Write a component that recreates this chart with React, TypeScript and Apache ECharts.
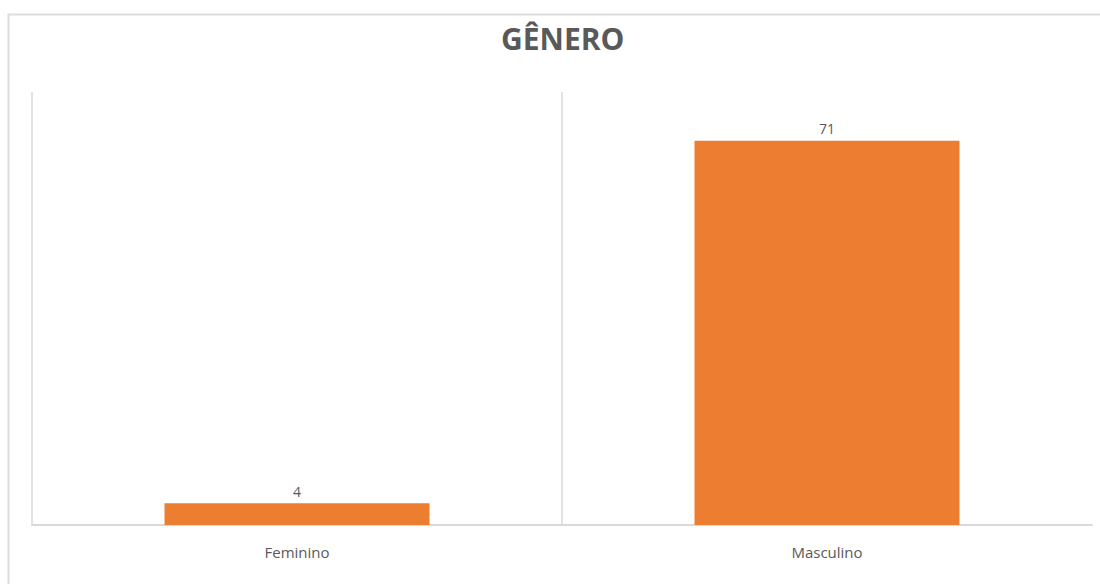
import React, { useEffect, useRef } from "react";
import * as echarts from "echarts";

const categories = ["Feminino", "Masculino"];
const values = [4, 71];
const titleText = "GÊNERO";

export default function App() {
  const ref = useRef<HTMLDivElement>(null);
  useEffect(() => {
    const chart = echarts.init(ref.current!, null, { renderer: "svg" });
    chart.setOption({
      animation: false,
      backgroundColor: "#ffffff",
      title: {
        text: titleText,
        left: 496,
        top: 18,
        textStyle: { fontFamily: "Open Sans", fontSize: 30, fontWeight: "bold", color: "#595959" },
      },
      graphic: [
        {
          type: "polyline",
          shape: { points: [[8.5, 700], [8.5, 14.5], [1100, 14.5]] },
          style: { fill: "none", stroke: "#dcdcdc", lineWidth: 2 },
          silent: true,
        },
      ],
      grid: { left: 32, right: 8, top: 92, bottom: 59 },
      xAxis: {
        type: "category",
        data: categories,
        boundaryGap: true,
        axisLine: { show: true, lineStyle: { color: "#d9d9d9", width: 2 } },
        axisTick: { show: false },
        splitLine: { show: true, showMaxLine: false, lineStyle: { color: "#e3e3e3", width: 2 } },
        axisLabel: { color: "#595959", fontFamily: "Open Sans", fontSize: 15, margin: 19 },
      },
      yAxis: {
        type: "value",
        min: 0,
        max: 80,
        show: false,
        splitLine: { show: false },
      },
      series: [
        {
          type: "bar",
          data: values,
          barWidth: "50%",
          itemStyle: { color: "#ED7D31" },
          label: {
            show: true,
            position: "top",
            color: "#595959",
            fontFamily: "Open Sans",
            fontSize: 14,
            distance: 5,
          },
        },
      ],
    });
    return () => chart.dispose();
  }, []);
  return <div ref={ref} style={{ position: "absolute", left: 0, top: 0, width: 1100, height: 584 }} />;
}
